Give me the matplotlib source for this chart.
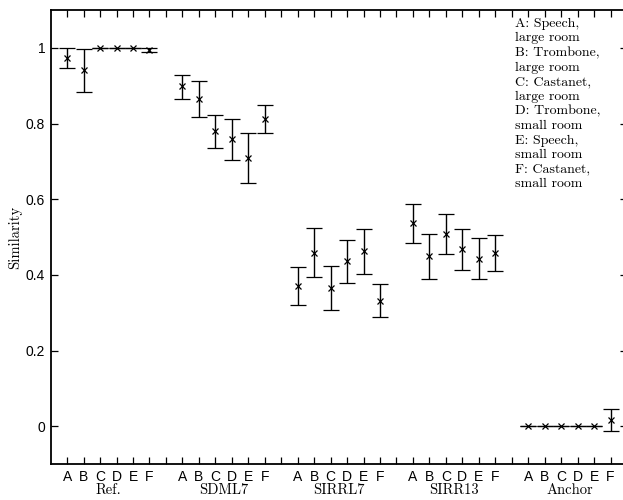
import matplotlib
matplotlib.use('Agg')
import matplotlib.pyplot as plt
import matplotlib.transforms as mtransforms

# listening test results, one group of six items per condition
groups = ['Ref.', 'SDML7', 'SIRRL7', 'SIRR13', 'Anchor']
items = ['A', 'B', 'C', 'D', 'E', 'F']

means = [
    [0.974, 0.941, 1.0, 1.0, 1.0, 0.995],
    [0.898, 0.865, 0.779, 0.759, 0.710, 0.812],
    [0.371, 0.459, 0.366, 0.437, 0.463, 0.332],
    [0.536, 0.449, 0.508, 0.467, 0.442, 0.458],
    [0.0, 0.0, 0.0, 0.0, 0.0, 0.016],
]
lower = [
    [0.946, 0.883, 1.0, 1.0, 1.0, 0.989],
    [0.866, 0.817, 0.736, 0.704, 0.642, 0.775],
    [0.320, 0.393, 0.307, 0.378, 0.401, 0.289],
    [0.485, 0.390, 0.455, 0.413, 0.389, 0.411],
    [0.0, 0.0, 0.0, 0.0, 0.0, -0.014],
]
upper = [
    [1.0, 0.998, 1.0, 1.0, 1.0, 1.0],
    [0.929, 0.912, 0.822, 0.813, 0.776, 0.849],
    [0.421, 0.524, 0.424, 0.493, 0.522, 0.377],
    [0.587, 0.507, 0.562, 0.522, 0.497, 0.506],
    [0.0, 0.0, 0.0, 0.0, 0.0, 0.045],
]

legend_text = ('A: Speech,\nlarge room\nB: Trombone,\nlarge room\nC: Castanet,\n'
               'large room\nD: Trombone,\nsmall room\nE: Speech,\nsmall room\n'
               'F: Castanet,\nsmall room')

serif = 'cmr10'
sans = 'Liberation Sans'

fig = plt.figure(figsize=(6.23, 5.0), dpi=100)
ax = fig.add_axes([50.7/623, 36/500, (627-50.7)/623, 454/500])

for g in range(len(groups)):
    xs = [g*7 + 1 + i for i in range(6)]
    m = means[g]
    err = [[m[i] - lower[g][i] for i in range(6)], [upper[g][i] - m[i] for i in range(6)]]
    ax.errorbar(xs, m, yerr=err, fmt='x', color='k', ecolor='k', markersize=4,
                mew=0.9, elinewidth=1.0, capsize=5.5, capthick=1.0)
    ax.text(g*7 + 3.5, -0.058, groups[g],
            transform=mtransforms.blended_transform_factory(ax.transData, ax.transAxes),
            ha='center', va='center', fontsize=10.5, family=serif)

ax.set_xlim(0, 35)
ax.set_ylim(-0.1, 1.1)
ax.set_xticks(range(1, 35))
ax.set_xticklabels(['' if (x % 7 == 0) else items[(x % 7) - 1] for x in range(1, 35)],
                   fontsize=10, family=sans)
ax.set_yticks([0, 0.2, 0.4, 0.6, 0.8, 1.0])
ax.set_yticklabels(['0', '0.2', '0.4', '0.6', '0.8', '1'], fontsize=10, family=sans)
ax.tick_params(direction='in', length=5, width=0.9, top=True, right=True, pad=4)
for s in ax.spines.values():
    s.set_linewidth(1.3)

ax.set_ylabel('Similarity', family=serif, fontsize=10.5)
ax.yaxis.set_label_coords(-0.05, 0.5)

ax.text(0.806, 0.983, legend_text, transform=ax.transAxes, ha='left', va='top',
        fontsize=10, family=serif, linespacing=1.27)

fig.savefig('out.png', dpi=100)
